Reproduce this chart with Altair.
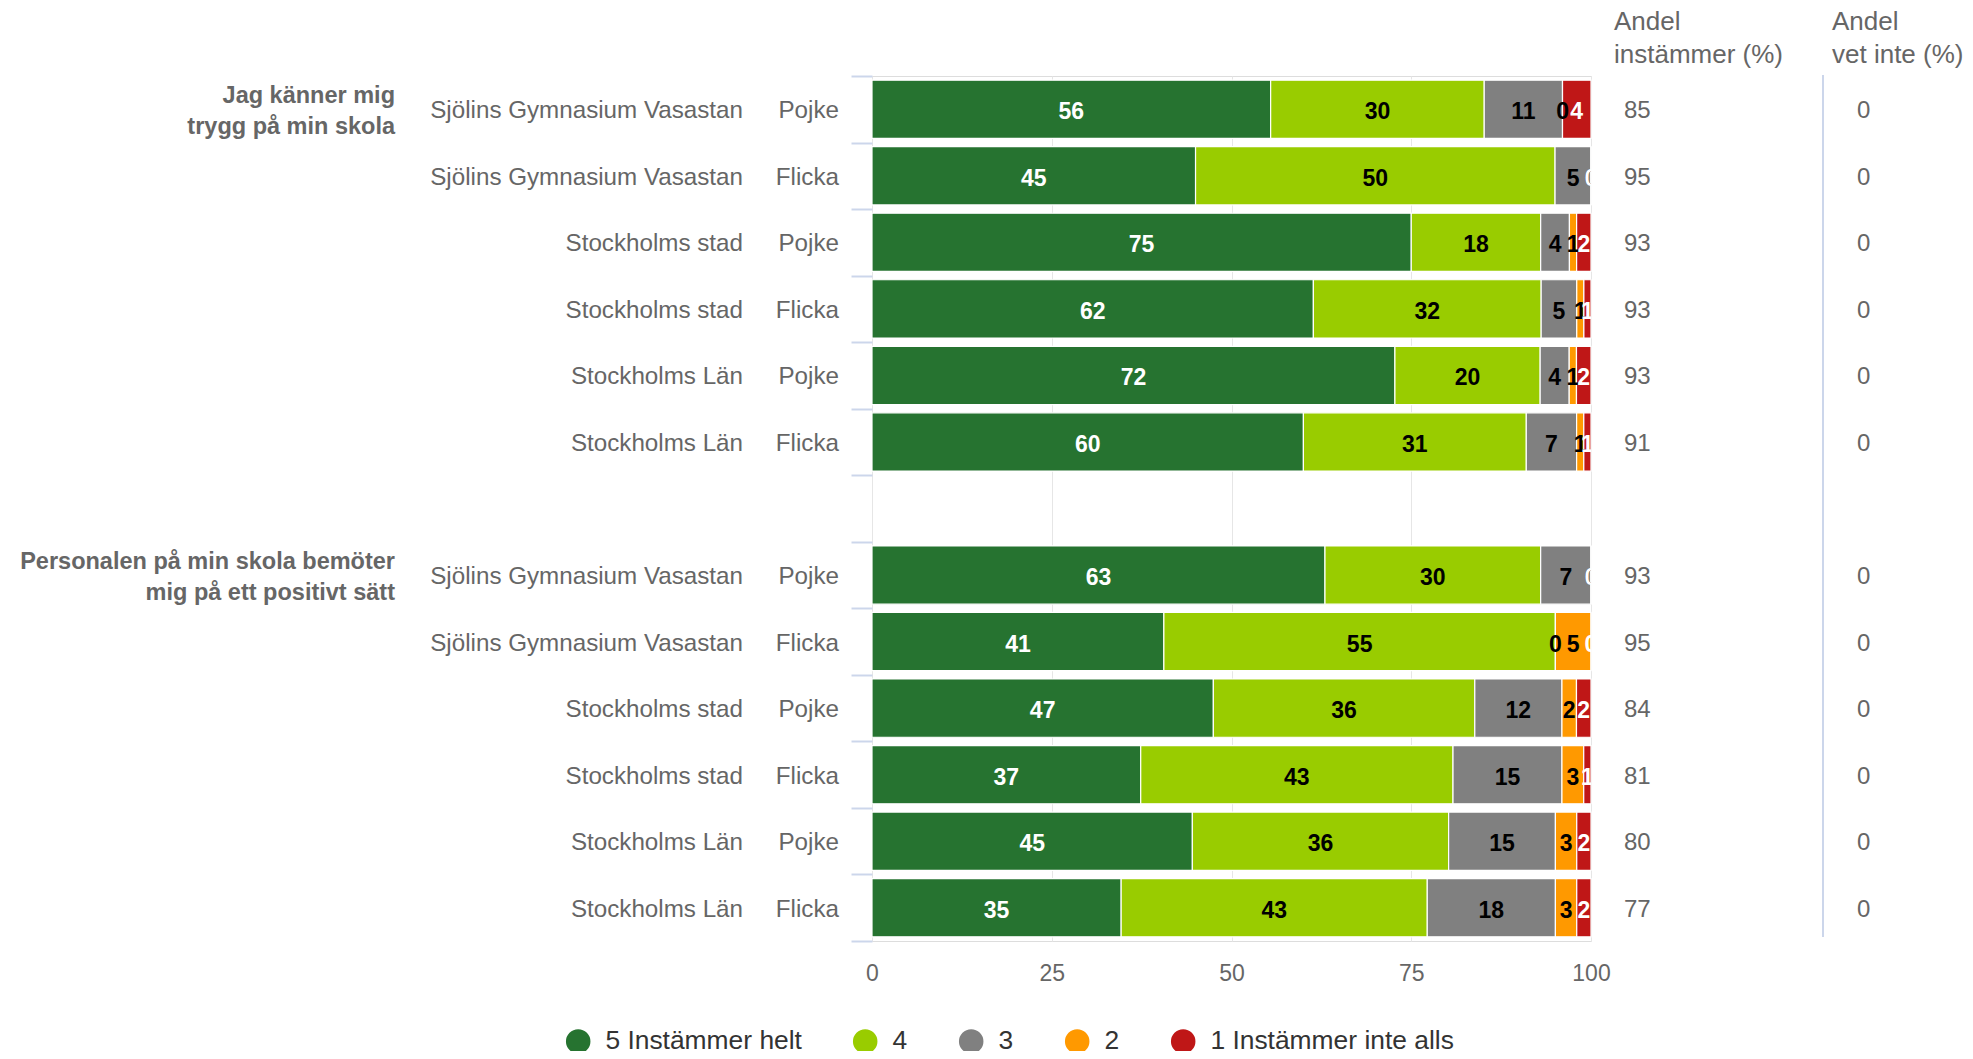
import altair as alt
import pandas as pd

# ---------------- data ----------------
groups = ["Jag känner mig\ntrygg på min skola",
          "Personalen på min skola bemöter\nmig på ett positivt sätt"]
units = ["Sjölins Gymnasium Vasastan", "Sjölins Gymnasium Vasastan",
         "Stockholms stad", "Stockholms stad",
         "Stockholms Län", "Stockholms Län"] * 2
genders = ["Pojke", "Flicka"] * 6

categories = ["5 Instämmer helt", "4", "3", "2", "1 Instämmer inte alls"]
colors = ["#267330", "#99cc00", "#808080", "#ff9900", "#bf1717"]
label_colors = ["#ffffff", "#000000", "#000000", "#000000", "#ffffff"]

v5 = [56, 45, 75, 62, 72, 60, 63, 41, 47, 37, 45, 35]
v4 = [30, 50, 18, 32, 20, 31, 30, 55, 36, 43, 36, 43]
v3 = [11, 5, 4, 5, 4, 7, 7, 0, 12, 15, 15, 18]
v2 = [0, 0, 1, 1, 1, 1, 0, 5, 2, 3, 3, 3]
v1 = [4, 0, 2, 1, 2, 1, 0, 0, 2, 1, 2, 2]
andel_instammer = [85, 95, 93, 93, 93, 91, 93, 95, 84, 81, 80, 77]
andel_vet_inte = [0] * 12

headers = ["Andel\ninstämmer (%)", "Andel\nvet inte (%)"]
x_ticks = [0, 25, 50, 75, 100]

# ---------------- build tables ----------------
row_ids = [f"r{i}" for i in range(12)]
slots = row_ids[:6] + ["gap"] + row_ids[6:]

series = [v5, v4, v3, v2, v1]
recs = []
for i in range(12):
    vals = [s[i] for s in series]
    tot = sum(vals)
    cum = 0.0
    for k, v in enumerate(vals):
        p = v / tot * 100
        recs.append({"slot": row_ids[i], "cat": categories[k], "value": v,
                     "start": cum, "end": cum + p, "mid": cum + p / 2,
                     "tcolor": label_colors[k], "order": k})
        cum += p
df = pd.DataFrame(recs)

rows = pd.DataFrame({"slot": row_ids, "unit": units, "gender": genders,
                     "andel": andel_instammer, "vet": andel_vet_inte})
grp = pd.DataFrame({"slot": [row_ids[0], row_ids[6]], "text": groups})

FONT = "Liberation Sans"
GREY = "#666666"

yscale = alt.Scale(domain=slots, paddingInner=0, paddingOuter=0)
yax = alt.Axis(labels=False, title=None, domain=False, ticks=True, tickBand="extent",
               tickColor="#ccd6eb", tickSize=21, tickWidth=2, grid=False)
xscale = alt.Scale(domain=[0, 100], nice=False)
xax = alt.Axis(values=x_ticks, grid=True, gridColor="#e6e6e6", gridWidth=1, ticks=False,
               domain=False, labelFontSize=23, labelColor=GREY, labelPadding=21,
               labelFlush=False, title=None, labelFont=FONT)

Y = alt.Y("slot:N", scale=yscale, axis=yax)

bars = alt.Chart(df).mark_bar(height=alt.RelativeBandSize(band=0.875),
                              stroke="white", strokeWidth=1.2).encode(
    y=Y,
    x=alt.X("start:Q", scale=xscale, axis=xax),
    x2="end:Q",
    color=alt.Color("cat:N", scale=alt.Scale(domain=categories, range=colors),
                    legend=alt.Legend(orient="none", legendX=-307, legendY=952,
                                      direction="horizontal", title=None,
                                      symbolType="circle", symbolSize=600,
                                      symbolStrokeWidth=0, symbolOpacity=1,
                                      labelFontSize=26.4, labelColor="#333333",
                                      labelFont=FONT, labelOffset=14, labelLimit=0,
                                      columnPadding=50)),
    order=alt.Order("order:Q"),
)

bar_text = alt.Chart(df).mark_text(clip=True, fontWeight="bold", fontSize=23,
                                   font=FONT, baseline="middle", align="center",
                                   dy=3).encode(
    y=Y,
    x=alt.X("mid:Q", scale=xscale, axis=xax),
    text="value:Q",
    color=alt.Color("tcolor:N", scale=None),
    order=alt.Order("order:Q"),
)

unit_text = alt.Chart(rows).mark_text(align="right", baseline="middle", fontSize=24.2,
                                      font=FONT, color=GREY, dy=2).encode(
    y=Y, x=alt.value(-129), text="unit:N")

gender_text = alt.Chart(rows).mark_text(align="right", baseline="middle", fontSize=24.2,
                                        font=FONT, color=GREY, dy=2).encode(
    y=Y, x=alt.value(-33), text="gender:N")

andel_text = alt.Chart(rows).mark_text(align="left", baseline="middle", fontSize=24,
                                       font=FONT, color=GREY, dy=2).encode(
    y=Y, x=alt.value(752), text="andel:Q")

vet_text = alt.Chart(rows).mark_text(align="left", baseline="middle", fontSize=24,
                                     font=FONT, color=GREY, dy=2).encode(
    y=Y, x=alt.value(985), text="vet:Q")

group_text = alt.Chart(grp).mark_text(align="right", baseline="middle", fontSize=23.5,
                                      fontWeight="bold", font=FONT, color=GREY,
                                      lineBreak="\n", lineHeight=31, dy=-13).encode(
    y=Y, x=alt.value(-477), text="text:N")

hdr1 = alt.Chart(pd.DataFrame({"t": [headers[0]]})).mark_text(
    align="left", baseline="middle", fontSize=26, font=FONT, color=GREY,
    lineBreak="\n", lineHeight=33).encode(x=alt.value(742), y=alt.value(-54), text="t:N")

hdr2 = alt.Chart(pd.DataFrame({"t": [headers[1]]})).mark_text(
    align="left", baseline="middle", fontSize=26, font=FONT, color=GREY,
    lineBreak="\n", lineHeight=33).encode(x=alt.value(960), y=alt.value(-54), text="t:N")

sep = alt.Chart(pd.DataFrame({"a": [0]})).mark_rule(color="#ccd6eb", strokeWidth=2).encode(
    x=alt.value(951), y=alt.value(-1), y2=alt.value(861))

chart = alt.layer(
    bars, bar_text, unit_text, gender_text, andel_text, vet_text, group_text,
    hdr1, hdr2, sep
).properties(
    width=719, height=865,
    autosize=alt.AutoSizeParams(type="none"),
    padding={"left": 864, "top": 68, "right": 373, "bottom": 110},
).configure_view(stroke=None).configure(font=FONT)

chart.save("out.html", embed_options={"renderer": "svg", "actions": False})
